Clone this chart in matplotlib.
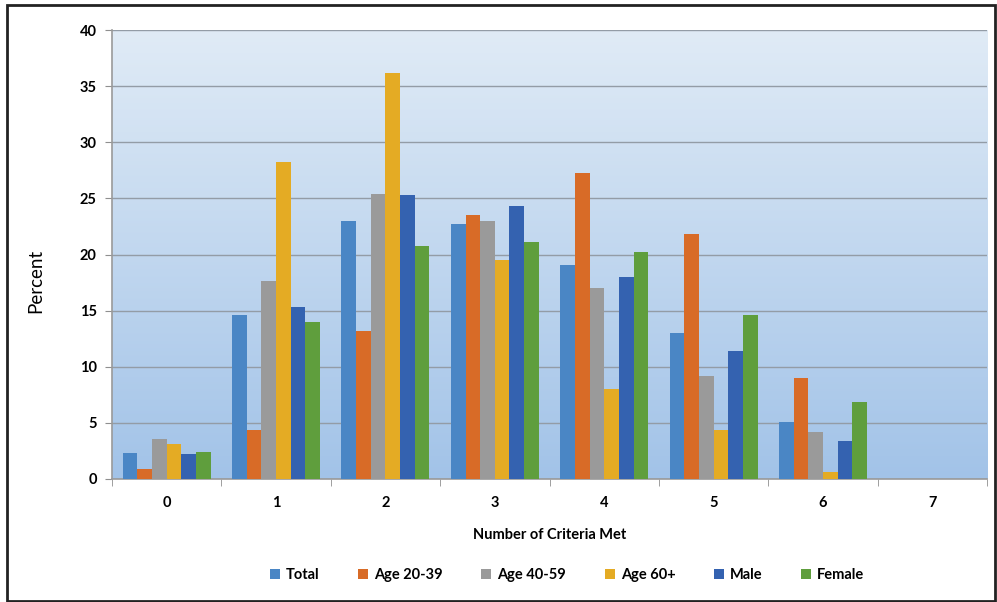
import numpy as np
import matplotlib
matplotlib.use("Agg")
import matplotlib.pyplot as plt
from matplotlib.patches import Rectangle

categories = ["0", "1", "2", "3", "4", "5", "6", "7"]
series_names = ["Total", "Age 20-39", "Age 40-59", "Age 60+", "Male", "Female"]
total = [2.3, 14.6, 23.0, 22.7, 19.1, 13.0, 5.1, 0]
age_20_39 = [0.9, 4.4, 13.2, 23.5, 27.3, 21.8, 9.0, 0]
age_40_59 = [3.6, 17.6, 25.4, 23.0, 17.0, 9.2, 4.2, 0]
age_60p = [3.1, 28.2, 36.2, 19.5, 8.0, 4.4, 0.6, 0]
male = [2.2, 15.3, 25.3, 24.3, 18.0, 11.4, 3.4, 0]
female = [2.4, 14.0, 20.8, 21.1, 20.2, 14.6, 6.9, 0]
y_ticks = [0, 5, 10, 15, 20, 25, 30, 35, 40]

series = [total, age_20_39, age_40_59, age_60p, male, female]
colors = ["#4a86c5", "#d86b27", "#9a9a9a", "#e4ab24", "#3462b0", "#5f9e3d"]

plt.rcParams['font.family'] = ['Lato', 'DejaVu Sans']

fig = plt.figure(figsize=(9.97, 6.02), dpi=100)
ax = fig.add_axes([112/997, 1-479/602, (987-112)/997, (479-30)/602])

# gradient background
grad = np.linspace(0, 1, 256).reshape(-1, 1)
top = np.array([0xe0, 0xeb, 0xf6]) / 255
bot = np.array([0xa2, 0xc3, 0xe8]) / 255
img = top[None, None, :] * (1 - grad[:, :, None]) + bot[None, None, :] * grad[:, :, None]
ax.imshow(img, extent=[0, 1, 0, 1], transform=ax.transAxes, aspect='auto', zorder=0)

x = np.arange(len(categories))
n = len(series)
w = 0.134
for i, (vals, c, name) in enumerate(zip(series, colors, series_names)):
    ax.bar(x + (i - (n - 1) / 2) * w, vals, width=w, color=c, label=name, zorder=3)

ax.set_xlim(-0.5, len(categories) - 0.5)
ax.set_ylim(0, 40)
ax.set_yticks(y_ticks)
ax.set_yticklabels([str(v) for v in y_ticks], fontsize=10.5, fontweight='bold')
ax.yaxis.grid(True, color='#939ca6', linewidth=1.0, zorder=1)
ax.set_axisbelow(True)

ax.set_xticks(x)
ax.set_xticklabels(categories, fontsize=10.5, fontweight='bold')
ax.set_xticks(np.arange(-0.5, len(categories)), minor=True)
ax.tick_params(axis='x', which='major', length=0, pad=12)
ax.tick_params(axis='x', which='minor', length=5, color='#8f8f8f')
ax.tick_params(axis='y', which='major', length=5, color='#8f8f8f', pad=6)

for s in ['top', 'right']:
    ax.spines[s].set_visible(False)
for s in ['left', 'bottom']:
    ax.spines[s].set_color('#9a9a9a')
    ax.spines[s].set_linewidth(1.2)

fig.text(550/997, 1-535/602, "Number of Criteria Met", ha='center', va='center',
         fontsize=10.5, fontweight='bold')
fig.text(36/997, 1-281/602, "Percent", ha='center', va='center', rotation=90,
         fontsize=13.5)

fig.legend(loc='center', bbox_to_anchor=(567/997, 1-575/602), ncol=6, frameon=False,
           prop={'size': 10.5, 'weight': 'bold'}, handlelength=0.7, handleheight=0.7,
           handletextpad=0.4, columnspacing=2.65)

fig.patches.append(Rectangle((7/997, 1-601/602), (995-7)/997, (601-5)/602,
                             transform=fig.transFigure, fill=False,
                             edgecolor='#222222', linewidth=2.0))

fig.savefig("out.png", dpi=100)
